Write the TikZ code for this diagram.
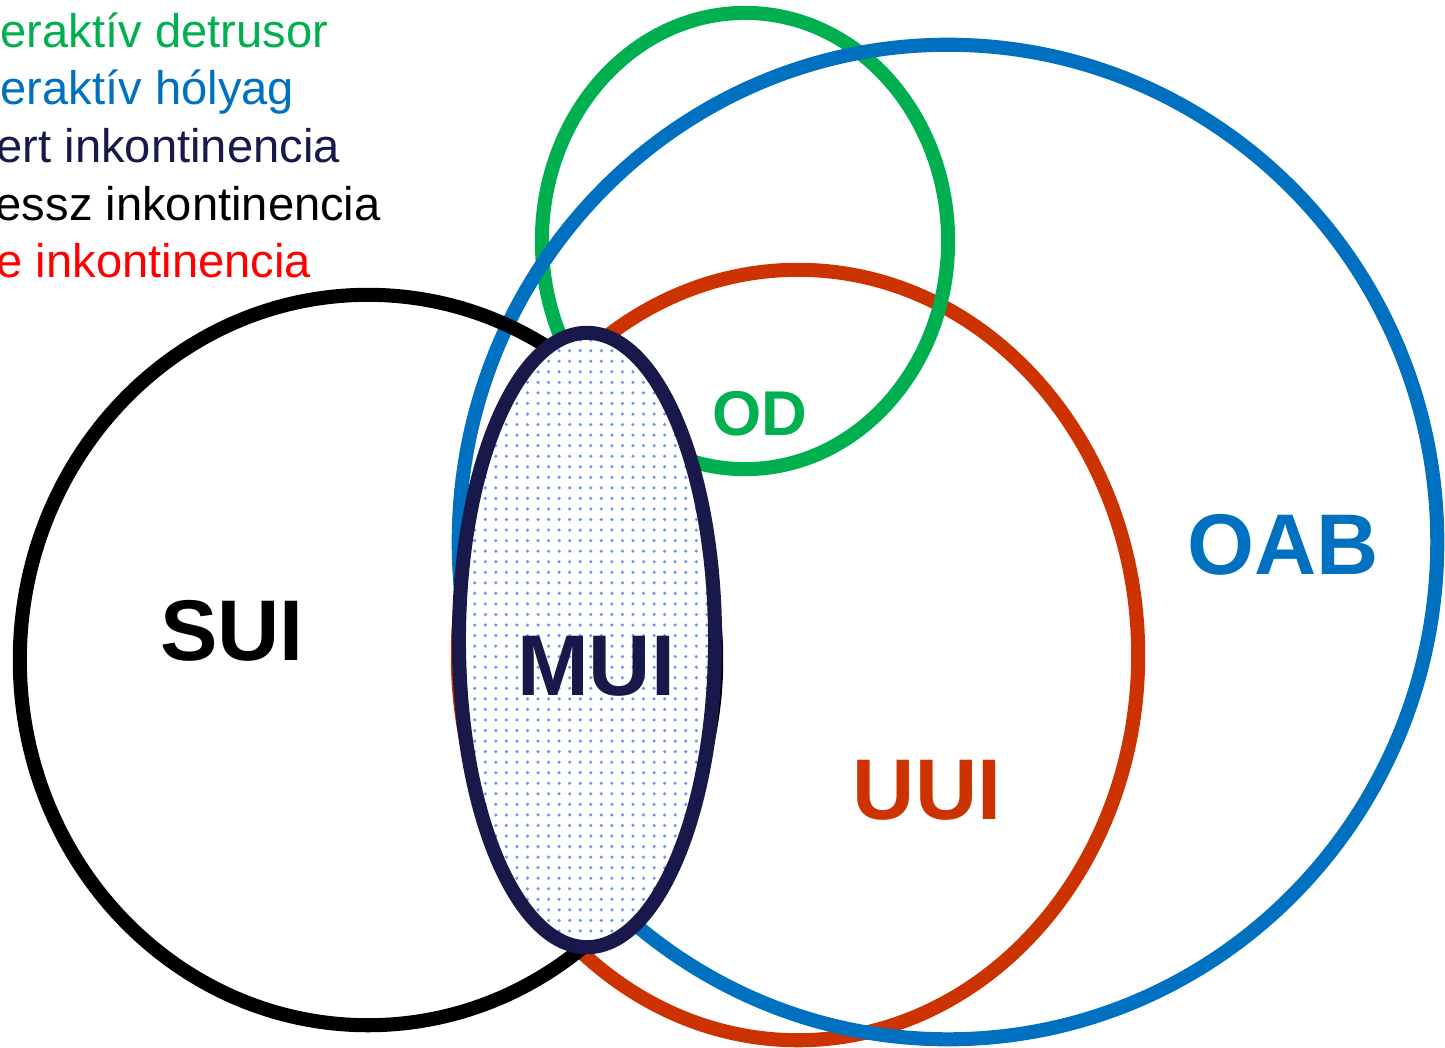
\documentclass[tikz,border=0pt]{standalone}
\usepackage{fontspec}
\setmainfont{Liberation Sans}
\usetikzlibrary{patterns}
\definecolor{odgreen}{HTML}{00B050}
\definecolor{oabblue}{HTML}{0070C0}
\definecolor{uuired}{HTML}{CC3300}
\definecolor{muinavy}{HTML}{18184A}
\definecolor{dotblue}{RGB}{110,150,240}
\begin{document}
\begin{tikzpicture}[x=0.01cm, y=-0.01cm,
        ring/.style={line width=4pt},
        biglabel/.style={inner sep=0pt, font=\fontsize{24.5}{29}\selectfont\bfseries},
        legendtext/.style={anchor=base west, inner sep=0pt, font=\fontsize{13.4}{16}\selectfont}]
        \useasboundingbox (0,0) rectangle (1445,1047);

        % Legend (cut off at the left edge)
        \node[legendtext, odgreen] (lgOD) at (0,47) {eraktív detrusor};
        \node[legendtext, oabblue] (lgOAB) at (0,104) {eraktív hólyag};
        \node[legendtext, muinavy] (lgMUI) at (-4,162) {ert inkontinencia};
        \node[legendtext, black] (lgSUI) at (-5,220) {essz inkontinencia};
        \node[legendtext, red] (lgUUI) at (-4,277) {e inkontinencia};

        % Centres of the sets
        \coordinate (cUUI) at (798,655);
        \coordinate (cOD) at (745,241);
        \coordinate (cOAB) at (948,542);
        \coordinate (cSUI) at (368,660);
        \coordinate (cMUI) at (587,640);

        % Sets, from the bottom up
        \draw[ring, uuired] (cUUI) ellipse [x radius=3.40cm, y radius=3.85cm];
        \draw[ring, odgreen] (cOD) ellipse [x radius=2.03cm, y radius=2.28cm];
        \draw[ring, oabblue] (cOAB) ellipse [x radius=4.89cm, y radius=4.97cm];
        \draw[ring, black] (cSUI) ellipse [x radius=3.48cm, y radius=3.65cm];

        % Mixed incontinence: dotted, on top of all
        \path[ring, draw=muinavy, preaction={fill=white}, pattern=dots, pattern color=dotblue]
            (cMUI) ellipse [x radius=1.28cm, y radius=3.07cm];

        % Labels
        \node[biglabel, black] (SUI) at (232,631) {SUI};
        \node[biglabel, muinavy] (MUI) at (596,666) {MUI};
        \node[biglabel, oabblue] (OAB) at (1283,545) {OAB};
        \node[biglabel, uuired] (UUI) at (927,790) {UUI};
        \node[inner sep=0pt, odgreen, font=\fontsize{18}{22}\selectfont\bfseries] (OD) at (760,414) {OD};
    \end{tikzpicture}
\end{document}
